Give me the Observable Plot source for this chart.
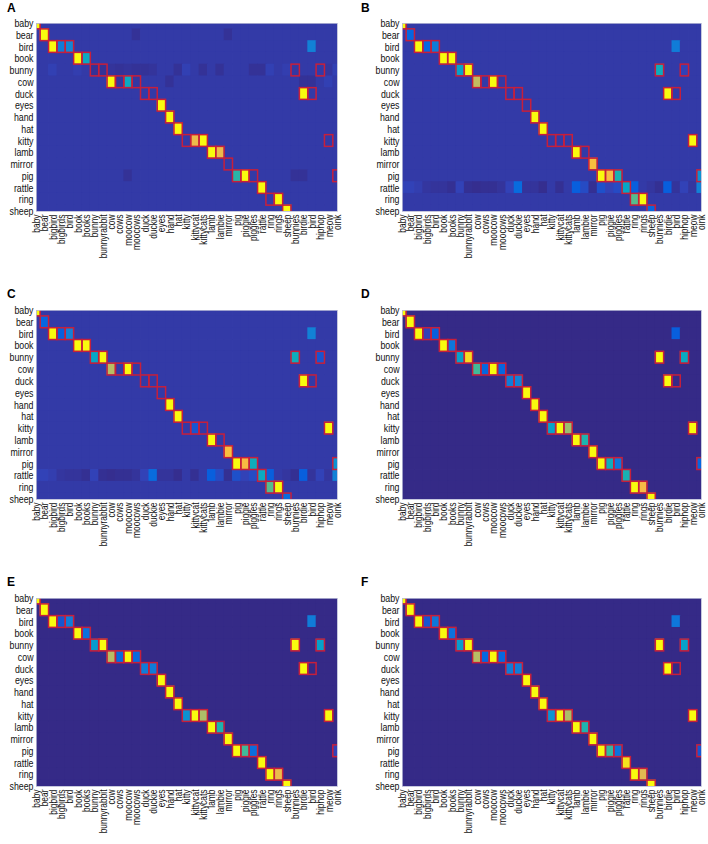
<!DOCTYPE html>
<html>
<head>
<meta charset="utf-8">
<script src="https://cdn.jsdelivr.net/npm/d3@7"></script>
<script src="https://cdn.jsdelivr.net/npm/@observablehq/plot@0.6"></script>
<style>
  html, body { margin: 0; padding: 0; background: #fff; }
  #fig { position: relative; width: 708px; height: 844px; background: #fff; font-family: "Liberation Sans", Arial, sans-serif; }
  .panel { position: absolute; }
  .letter { position: absolute; font: bold 12px/12px "Liberation Sans", Arial, sans-serif; color: #000; }
</style>
</head>
<body>
<div id="fig"></div>
<script>
// ---------- data ----------
const rows = ["baby","bear","bird","book","bunny","cow","duck","eyes","hand","hat","kitty","lamb","mirror","pig","rattle","ring","sheep"];
const cols = ["baby","bear","bigbird","bigbirds","bird","book","books","bunny","bunnyrabbit","cow","cows","moocow","moocows","duck","duckie","eyes","hand","hat","kitty","kittycat","kittycats","lamb","lambie","mirror","pig","piggie","piggies","rattle","ring","rings","sheep","bunnies","birdie","bird","hiphop","meow","oink"];

// target cells (outlined in red): [row, column index]
const targets = [
  ["baby",0],["bear",1],
  ["bird",2],["bird",3],["bird",4],
  ["book",5],["book",6],
  ["bunny",7],["bunny",8],["bunny",31],["bunny",34],
  ["cow",9],["cow",10],["cow",11],["cow",12],
  ["duck",13],["duck",14],["duck",32],["duck",33],
  ["eyes",15],["hand",16],["hat",17],
  ["kitty",18],["kitty",19],["kitty",20],["kitty",35],
  ["lamb",21],["lamb",22],["mirror",23],
  ["pig",24],["pig",25],["pig",26],["pig",36],
  ["rattle",27],["ring",28],["ring",29],["sheep",30]
];

// background level of each panel
const baseA = 0.04, baseB = 0.04, baseC = 0.04, baseD = 0, baseE = 0, baseF = 0;

// non-background cells: [row, column index, value]
const panelA = [
  ["baby",0,1],["bear",1,1],["bear",12,0.02],["bear",23,0.02],
  ["bird",2,1],["bird",3,0.22],["bird",4,0.26],["bird",33,0.24],
  ["book",5,1],["book",6,0.4],
  ["bunny",2,0.055],["bunny",5,0.05],["bunny",7,0.02],["bunny",8,0.02],["bunny",9,0.025],["bunny",10,0.02],
  ["bunny",11,0.025],["bunny",12,0.02],["bunny",13,0.02],["bunny",14,0.025],["bunny",17,0.02],["bunny",18,0.055],
  ["bunny",20,0.02],["bunny",22,0.02],["bunny",26,0.02],["bunny",27,0.02],["bunny",28,0.055],["bunny",30,0.05],
  ["bunny",31,0.035],["bunny",35,0.03],["bunny",36,0.055],
  ["cow",9,1],["cow",10,0.03],["cow",11,0.4],["cow",12,0.035],["cow",16,0.02],["cow",32,0.02],["cow",33,0.02],["cow",35,0.055],
  ["duck",32,1],
  ["eyes",15,1],["hand",16,1],["hat",17,1],
  ["kitty",19,0.8],["kitty",20,1],
  ["lamb",21,1],["lamb",22,0.8],
  ["pig",11,0.02],["pig",24,0.48],["pig",25,1],["pig",31,0.02],["pig",32,0.02],
  ["rattle",27,1],["ring",29,1],["sheep",30,1]
];
const rattleB = [0.06,0.06,0.05,0.03,0.025,0.025,0.015,0.06,0.015,0.01,0.015,0.015,0.025,0.06,0.16,0.025,0.025,0.01,0.04,0.015,0.04,0.12,0.08,0.015,0.09,0.06,0.08,0.38,0.12,0.04,0.03,0.015,0.12,0.025,0.06,0.03,0.24];
const rattleC = [0.06,0.06,0.05,0.03,0.025,0.025,0.015,0.06,0.015,0.01,0.015,0.015,0.025,0.06,0.16,0.025,0.025,0.01,0.04,0.015,0.04,0.12,0.08,0.015,0.09,0.06,0.08,0.4,0.12,0.04,0.03,0.015,0.12,0.025,0.06,0.03,0.24];
const panelB = [
  ["baby",0,1],["bear",1,0.14],
  ["bird",2,1],["bird",3,0.14],["bird",4,0.22],["bird",33,0.22],
  ["book",5,1],["book",6,1],
  ["bunny",7,0.36],["bunny",8,1],["bunny",31,0.42],["bunny",34,0.06],
  ["cow",9,0.72],["cow",11,1],
  ["duck",32,1],
  ["hand",16,1],["hat",17,1],
  ["kitty",35,1],
  ["lamb",21,1],
  ["mirror",23,0.84],
  ["pig",24,1],["pig",25,0.83],["pig",26,0.45],["pig",36,0.3],
  ["ring",28,0.55],["ring",29,1],
  ["sheep",30,0.14]
];
const panelC = [
  ["baby",0,1],["bear",1,0.14],
  ["bird",2,1],["bird",3,0.12],["bird",4,0.24],["bird",33,0.24],
  ["book",5,1],["book",6,1],
  ["bunny",7,0.38],["bunny",8,1],["bunny",31,0.42],["bunny",34,0.1],
  ["cow",9,0.7],["cow",11,1],
  ["duck",32,1],
  ["hand",16,1],["hat",17,1],
  ["kitty",19,0.1],["kitty",35,1],
  ["lamb",21,1],
  ["mirror",23,0.84],
  ["pig",24,1],["pig",25,0.83],["pig",26,0.42],["pig",36,0.3],
  ["ring",28,0.55],["ring",29,1],
  ["sheep",30,0.16]
];
const panelD = [
  ["baby",0,1],["bear",1,1],
  ["bird",2,1],["bird",3,0.06],["bird",4,0.12],["bird",33,0.12],
  ["book",5,1],["book",6,0.2],
  ["bunny",7,0.36],["bunny",8,0.93],["bunny",31,1],["bunny",34,0.4],
  ["cow",9,0.52],["cow",10,0.14],["cow",11,1],["cow",12,0.14],
  ["duck",13,0.22],["duck",14,0.24],["duck",32,1],
  ["eyes",15,1],["hand",16,1],["hat",17,1],
  ["kitty",18,0.36],["kitty",19,1],["kitty",20,0.65],["kitty",35,1],
  ["lamb",21,1],["lamb",22,0.46],
  ["mirror",23,1],
  ["pig",24,1],["pig",25,0.42],["pig",26,0.2],["pig",36,0.14],
  ["rattle",27,0.45],
  ["ring",28,1],["ring",29,0.82],
  ["sheep",30,1]
];
const panelE = [
  ["baby",0,1],["bear",1,1],
  ["bird",2,1],["bird",3,0.1],["bird",4,0.22],["bird",33,0.22],
  ["book",5,1],["book",6,0.18],
  ["bunny",7,0.34],["bunny",8,1],["bunny",31,1],["bunny",34,0.36],
  ["cow",9,0.7],["cow",10,0.15],["cow",11,1],["cow",12,0.15],
  ["duck",13,0.22],["duck",14,0.22],["duck",32,1],
  ["eyes",15,1],["hand",16,1],["hat",17,1],
  ["kitty",18,0.3],["kitty",19,1],["kitty",20,0.68],["kitty",35,1],
  ["lamb",21,1],["lamb",22,0.46],
  ["mirror",23,1],
  ["pig",24,1],["pig",25,0.52],["pig",26,0.17],["pig",36,0.06],
  ["rattle",27,1],
  ["ring",28,1],["ring",29,0.8],
  ["sheep",30,1]
];
const panelF = [
  ["baby",0,1],["bear",1,1],
  ["bird",2,1],["bird",3,0.1],["bird",4,0.2],["bird",33,0.2],
  ["book",5,1],["book",6,0.18],
  ["bunny",7,0.34],["bunny",8,1],["bunny",31,1],["bunny",34,0.36],
  ["cow",9,0.7],["cow",10,0.14],["cow",11,1],["cow",12,0.15],
  ["duck",13,0.22],["duck",14,0.22],["duck",32,1],
  ["eyes",15,1],["hand",16,1],["hat",17,1],
  ["kitty",18,0.3],["kitty",19,1],["kitty",20,0.68],["kitty",35,1],
  ["lamb",21,1],["lamb",22,0.46],
  ["mirror",23,1],
  ["pig",24,1],["pig",25,0.5],["pig",26,0.18],["pig",36,0.1],
  ["rattle",27,0.95],
  ["ring",28,1],["ring",29,0.78],
  ["sheep",30,1]
];

// ---------- parula colormap ----------
const parulaIdx = [0,4,8,12,16,20,24,28,32,36,40,44,48,52,56,60,63];
const parulaHex = ["#352a87","#3243ba","#0363e1","#0d75dc","#1485d4","#0998d1","#06a7c6","#15b1b4","#38b99e","#65be86","#92bf73","#b7bd64","#d9ba56","#f8bb44","#fcce2e","#f5e41d","#f9fb0e"];
const parulaScale = d3.scaleLinear().domain(parulaIdx.map(i => i / 63)).range(parulaHex).clamp(true);
const parula = t => parulaScale(t);

// ---------- layout ----------
const fig = document.getElementById("fig");
const FONT = '"Liberation Sans", Arial, sans-serif';

function buildGrid(base, entries, extraRow) {
  const m = new Map(entries.map(([r, c, v]) => [r + "|" + c, v]));
  if (extraRow) extraRow.vals.forEach((v, c) => { if (!m.has(extraRow.row + "|" + c)) m.set(extraRow.row + "|" + c, v); });
  const out = [];
  rows.forEach((r, ri) => cols.forEach((c, ci) => {
    const k = r + "|" + ci;
    out.push({ri, ci, v: m.has(k) ? m.get(k) : base});
  }));
  return out;
}

// squeeze axis text horizontally (the reference figure is compressed along x)
function num(s) { const v = parseFloat(s); return (s && /^-?[\d.]+$/.test(s.trim()) && isFinite(v)) ? v : 0; }
function squeeze(svg, label, sx, sy) {
  svg.querySelectorAll(`g[aria-label="${label}"] text`).forEach(t => {
    const x = num(t.getAttribute("x")), y = num(t.getAttribute("y"));
    const tr = t.getAttribute("transform") || "";
    t.setAttribute("transform", `${tr} translate(${x},${y}) scale(${sx},${sy}) translate(${-x},${-y})`.trim());
  });
}

const panels = [
  {id:"A", base: baseA, data: panelA, extra: null,                          left:0,   top:0,   h:281, mt:23, mb:70, ml:36, mr:17},
  {id:"B", base: baseB, data: panelB, extra: {row:"rattle", vals: rattleB}, left:354, top:0,   h:281, mt:23, mb:70, ml:48, mr:7},
  {id:"C", base: baseC, data: panelC, extra: {row:"rattle", vals: rattleC}, left:0,   top:281, h:281, mt:29, mb:63, ml:36, mr:17},
  {id:"D", base: baseD, data: panelD, extra: null,                          left:354, top:281, h:281, mt:29, mb:63, ml:48, mr:7},
  {id:"E", base: baseE, data: panelE, extra: null,                          left:0,   top:562, h:282, mt:36, mb:58, ml:36, mr:17},
  {id:"F", base: baseF, data: panelF, extra: null,                          left:354, top:562, h:282, mt:36, mb:58, ml:48, mr:7}
];
const letterTop = {0: 1.5, 281: 287.5, 562: 575.8};

const targetCells = targets.map(([r, c]) => ({ri: rows.indexOf(r), ci: c}));

for (const p of panels) {
  const cells = buildGrid(p.base, p.data, p.extra);
  const chart = Plot.plot({
    width: 354, height: p.h,
    marginTop: p.mt, marginBottom: p.mb, marginLeft: p.ml, marginRight: p.mr,
    style: {fontFamily: FONT, fontSize: "10px", color: "#111", background: "transparent"},
    x: {domain: [0, cols.length - 1]},
    y: {domain: [0, rows.length - 1], reverse: true},
    color: {type: "linear", domain: [0, 1], interpolate: parula, clamp: true},
    marks: [
      Plot.rect(cells, {
        x1: d => d.ci - 0.5, x2: d => d.ci + 0.5,
        y1: d => d.ri - 0.5, y2: d => d.ri + 0.5,
        fill: "v", inset: -0.4, clip: true
      }),
      Plot.rect(targetCells, {
        x1: d => d.ci - 0.5, x2: d => d.ci + 0.5,
        y1: d => d.ri - 0.5, y2: d => d.ri + 0.5,
        fill: "none", stroke: "#c71f3b", strokeWidth: 1.5, clip: true
      }),
      Plot.frame({stroke: "#b9bbd6", strokeWidth: 0.8}),
      Plot.axisX({
        ticks: cols.map((_, i) => i), tickFormat: i => cols[i],
        tickRotate: -90, tickSize: 0, tickPadding: 3, label: null, fontSize: 10.5
      }),
      Plot.axisY({
        ticks: rows.map((_, i) => i), tickFormat: i => rows[i],
        tickSize: 0, tickPadding: 3, label: null, fontSize: 11
      })
    ]
  });
  squeeze(chart, "x-axis tick label", 0.8, 1);
  squeeze(chart, "y-axis tick label", 0.8, 1);
  const wrap = document.createElement("div");
  wrap.className = "panel";
  wrap.style.left = p.left + "px";
  wrap.style.top = p.top + "px";
  wrap.appendChild(chart);
  fig.appendChild(wrap);

  const L = document.createElement("div");
  L.className = "letter";
  L.textContent = p.id;
  L.style.left = (p.left + 7) + "px";
  L.style.top = letterTop[p.top] + "px";
  fig.appendChild(L);
}
</script>
</body>
</html>
